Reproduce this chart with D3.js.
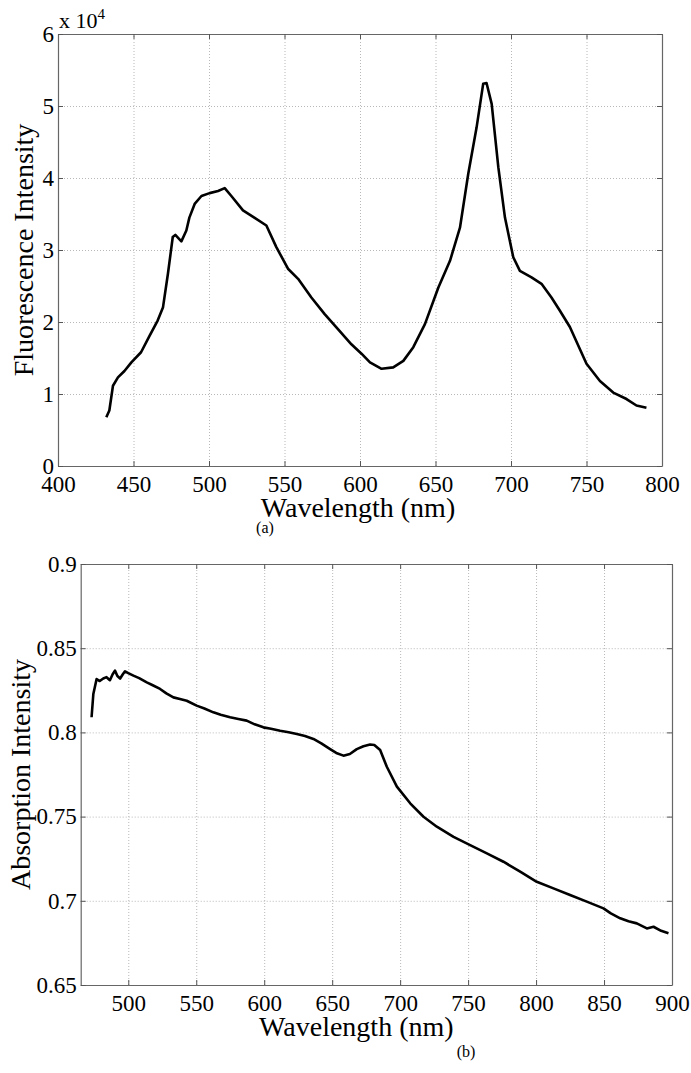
<!DOCTYPE html>
<html>
<head>
<meta charset="utf-8">
<script src="https://cdn.jsdelivr.net/npm/d3@7"></script>
<style>
body { margin: 0; background: #fff; }
svg text { font-family: "Liberation Serif", "Times New Roman", serif; fill: #000; }
</style>
</head>
<body>
<div id="chart"></div>
<script>
// panel (a): fluorescence spectrum
const fluorWl = [432, 434, 436.4, 439.7, 444, 448.6, 455, 460.7, 466, 469.5, 472.8, 476, 477.7, 481.7, 485, 487,
  490.5, 495, 500.4, 506, 510.4, 514.8, 522.5, 530, 538, 544.6, 552.3, 559, 567.8, 576.6, 585.4, 594.3, 601,
  606.6, 614.3, 622, 628.7, 635.3, 643, 651.9, 659.6, 666.2, 671.7, 677.2, 681.6, 683.8, 687.2, 691.6, 696,
  701.5, 705.9, 713.6, 720.2, 726.8, 732.3, 739, 750, 758.9, 767.7, 776.5, 783.1, 789.7];
const fluorVal = [6760, 7700, 11150, 12300, 13200, 14400, 15800, 18100, 20200, 22000, 26700, 31800, 32100, 31200, 32700, 34500,
  36400, 37500, 37900, 38200, 38600, 37500, 35500, 34500, 33400, 30400, 27400, 26000, 23400, 21100, 19000, 16900, 15600,
  14400, 13500, 13700, 14600, 16500, 19700, 24800, 28500, 33100, 40600, 47000, 53100, 53200, 50300, 41500, 34500,
  29000, 27100, 26200, 25300, 23400, 21600, 19300, 14200, 11800, 10200, 9300, 8400, 8100];
const fluorXTicks = [400, 450, 500, 550, 600, 650, 700, 750, 800];
const fluorYTicks = [0, 10000, 20000, 30000, 40000, 50000, 60000];

// panel (b): absorption spectrum
const absWl = [473, 474.3, 476.7, 479, 481.6, 484, 486.5, 488.5, 490.2, 492, 494, 496, 497.6, 500, 503.8, 508, 513.6,
  518, 523.4, 528, 533.2, 538, 543, 550.3, 556, 562.6, 568, 574.9, 581, 587.1, 593, 599.4, 605, 611.7, 618, 624,
  630, 636.2, 642, 648.5, 653, 658.3, 663, 668.1, 673, 677.9, 681, 685.3, 690.2, 697.6, 707.4, 717.2, 727, 739.3,
  751.5, 763.8, 776, 788.3, 800.5, 812.8, 825, 837.3, 849.6, 855, 861.9, 868, 874.1, 881.5, 886.4, 892, 897.4];
const absVal = [0.809, 0.8228, 0.8317, 0.8305, 0.832, 0.8328, 0.831, 0.8345, 0.8367, 0.8335, 0.832, 0.8345, 0.8363, 0.8352, 0.8337, 0.8322, 0.8297,
  0.828, 0.8258, 0.8232, 0.8208, 0.8198, 0.8188, 0.8159, 0.8142, 0.8119, 0.8105, 0.809, 0.808, 0.807, 0.8048, 0.803, 0.8022, 0.801, 0.8001, 0.799,
  0.7978, 0.7961, 0.7935, 0.7901, 0.7878, 0.7862, 0.7872, 0.7901, 0.7918, 0.7928, 0.7925, 0.7895, 0.7796, 0.7678, 0.7579, 0.7499, 0.744, 0.738,
  0.7331, 0.7282, 0.7232, 0.7173, 0.7113, 0.7074, 0.7034, 0.6995, 0.6955, 0.6925, 0.6896, 0.6878, 0.6866, 0.6836, 0.6846, 0.6822, 0.6807];
const absXTicks = [500, 550, 600, 650, 700, 750, 800, 850, 900];
const absYTicks = [0.65, 0.7, 0.75, 0.8, 0.85, 0.9];

const FONT = '"Liberation Serif", "Times New Roman", serif';
const W = 691, H = 1073;
const svg = d3.select("#chart").append("svg")
  .attr("width", W)
  .attr("height", H)
  .style("font-family", FONT);

function drawPanel(p) {
  var x = d3.scaleLinear().domain(p.xDomain).range([p.left, p.right]);
  var y = d3.scaleLinear().domain(p.yDomain).range([p.bottom, p.top]);
  var w = p.right - p.left, h = p.bottom - p.top;
  var g = svg.append("g");

  // dotted grid
  g.append("g")
    .attr("transform", "translate(0," + p.bottom + ")")
    .call(d3.axisBottom(x).tickValues(p.xTicks).tickSize(-h).tickFormat(""))
    .call(a => a.select(".domain").remove())
    .selectAll("line")
    .attr("class", "grid")
    .attr("stroke", "#b8b8b8")
    .attr("stroke-dasharray", "1,2");
  g.append("g")
    .attr("transform", "translate(" + p.left + ",0)")
    .call(d3.axisLeft(y).tickValues(p.yTicks).tickSize(-w).tickFormat(""))
    .call(a => a.select(".domain").remove())
    .selectAll("line")
    .attr("class", "grid")
    .attr("stroke", "#b8b8b8")
    .attr("stroke-dasharray", "1,2");

  // spectrum
  var line = d3.line().x(d => x(d[0])).y(d => y(d[1]));
  g.append("path")
    .datum(d3.zip(p.wl, p.val))
    .attr("fill", "none")
    .attr("stroke", "#000")
    .attr("stroke-width", 2.6)
    .attr("stroke-linejoin", "round")
    .attr("d", line);

  // box with inward ticks
  g.append("g")
    .attr("transform", "translate(0," + p.bottom + ")")
    .call(d3.axisBottom(x).tickValues(p.xTicks).tickSizeInner(-5).tickSizeOuter(0).tickPadding(10).tickFormat(d3.format("d")));
  g.append("g")
    .attr("transform", "translate(0," + p.top + ")")
    .call(d3.axisTop(x).tickValues(p.xTicks).tickSizeInner(-5).tickSizeOuter(0).tickFormat(""));
  g.append("g")
    .attr("transform", "translate(" + p.left + ",0)")
    .call(d3.axisLeft(y).tickValues(p.yTicks).tickSizeInner(-5).tickSizeOuter(0).tickPadding(4).tickFormat(p.yFormat));
  g.append("g")
    .attr("transform", "translate(" + p.right + ",0)")
    .call(d3.axisRight(y).tickValues(p.yTicks).tickSizeInner(-5).tickSizeOuter(0).tickFormat(""));

  g.selectAll("g").attr("font-family", FONT);
  g.selectAll(".domain").attr("stroke", "#666").attr("stroke-width", 1.2);
  g.selectAll(".tick line:not(.grid)").attr("stroke", "#555");
  g.selectAll(".tick text").style("font-size", "23px").style("font-family", FONT);

  g.append("text")
    .attr("x", (p.left + p.right) / 2 + p.xLabelShift)
    .attr("y", p.xLabelY)
    .attr("text-anchor", "middle")
    .style("font-size", "28px")
    .text("Wavelength (nm)");
  g.append("text")
    .attr("transform", "translate(" + p.yLabelX + "," + ((p.top + p.bottom) / 2) + ") rotate(-90)")
    .attr("text-anchor", "middle")
    .style("font-size", "28px")
    .text(p.yLabel);
  g.append("text")
    .attr("x", p.capX)
    .attr("y", p.capY)
    .attr("text-anchor", "middle")
    .style("font-size", "16px")
    .text(p.caption);
  return g;
}

var panelA = drawPanel({
  left: 58, right: 662, top: 34, bottom: 466,
  xDomain: [400, 800], yDomain: [0, 60000],
  xTicks: fluorXTicks, yTicks: fluorYTicks,
  yFormat: d => d / 10000,
  wl: fluorWl, val: fluorVal,
  xLabelY: 517, xLabelShift: -2, yLabelX: 33,
  yLabel: "Fluorescence Intensity",
  caption: "(a)", capX: 265, capY: 533
});
// exponent label of the y axis
var ex = panelA.append("text").attr("x", 59).attr("y", 28).style("font-size", "22px");
ex.append("tspan").text("x 10");
ex.append("tspan").attr("dy", -9).style("font-size", "15px").text("4");

drawPanel({
  left: 80.7, right: 672, top: 564, bottom: 985,
  xDomain: [465, 900], yDomain: [0.65, 0.9],
  xTicks: absXTicks, yTicks: absYTicks,
  yFormat: d => String(+d.toFixed(2)),
  wl: absWl, val: absVal,
  xLabelY: 1036, xLabelShift: -20, yLabelX: 30,
  yLabel: "Absorption Intensity",
  caption: "(b)", capX: 466, capY: 1057
});
</script>
</body>
</html>
